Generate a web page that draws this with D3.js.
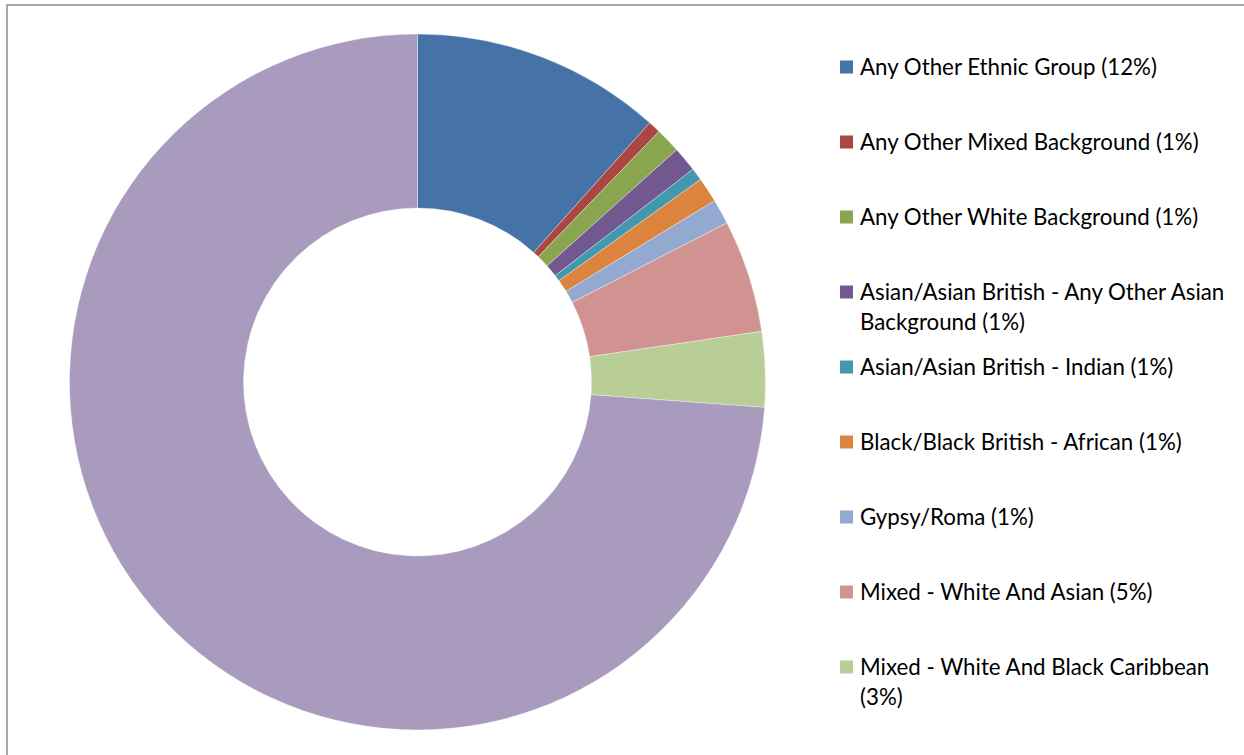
<!DOCTYPE html>
<meta charset="utf-8">
<head>
    <script src="https://d3js.org/d3.v7.min.js"></script>
    <style>
        body { margin: 0; background: #fff; }
        svg { display: block; }
        .legend text { font-family: "Lato", "Liberation Sans", sans-serif; font-size: 22.3px; fill: #000; }
    </style>
</head>
<body>
    <svg></svg>
    <script>
    // Data (counts)
    var categories = [
        "Any Other Ethnic Group",
        "Any Other Mixed Background",
        "Any Other White Background",
        "Asian/Asian British - Any Other Asian Background",
        "Asian/Asian British - Indian",
        "Black/Black British - African",
        "Gypsy/Roma",
        "Mixed - White And Asian",
        "Mixed - White And Black Caribbean",
        "White - British"
    ];
    var counts = [20, 1, 2, 2, 1, 2, 2, 9, 6, 127];
    var percentLabels = ["12%", "1%", "1%", "1%", "1%", "1%", "1%", "5%", "3%", "74%"];
    var colors = ["#4572A7", "#AA4643", "#89A54E", "#71588F", "#4198AF",
                  "#DB843D", "#93A9CF", "#D19392", "#B9CD96", "#A99BBD"];
    var legendShown = 9; // legend is cut off after the ninth entry

    var width = 1244, height = 755;
    var cx = 417.5, cy = 382;
    var outerR = 348, innerR = 174;

    var svg = d3.select("svg").attr("width", width).attr("height", height);

    // Outer frame
    svg.append("rect")
        .attr("x", 7).attr("y", 5)
        .attr("width", width).attr("height", height)
        .attr("fill", "none")
        .attr("stroke", "#8c8c8c")
        .attr("stroke-width", 1.5);

    var data = categories.map(function (c, i) {
        return { name: c, value: counts[i], pct: percentLabels[i], color: colors[i] };
    });

    var pie = d3.pie().sort(null).value(function (d) { return d.value; });
    var arc = d3.arc().innerRadius(innerR).outerRadius(outerR);

    var g = svg.append("g").attr("transform", "translate(" + cx + "," + cy + ")");
    g.selectAll("path")
        .data(pie(data))
        .enter().append("path")
        .attr("d", arc)
        .attr("fill", function (d) { return d.data.color; })
        .attr("stroke", "#fff")
        .attr("stroke-width", 0.5)
        .attr("stroke-opacity", 0.7);

    // Legend
    var legend = svg.append("g").attr("class", "legend");
    var step = 75, lineH = 30, maxW = 372;
    data.slice(0, legendShown).forEach(function (d, i) {
        var y = 67 + i * step;
        var item = legend.append("g");
        item.append("rect")
            .attr("x", 840).attr("y", y - 6.5)
            .attr("width", 13).attr("height", 13)
            .attr("fill", d.color);
        var text = item.append("text").attr("x", 860).attr("y", y);
        var words = (d.name + " (" + d.pct + ")").split(" ");
        var line = [], ln = 0;
        var tspan = text.append("tspan").attr("x", 860).attr("y", y).attr("dy", "0.35em");
        words.forEach(function (w) {
            line.push(w);
            tspan.text(line.join(" "));
            if (tspan.node().getComputedTextLength() > maxW && line.length > 1) {
                line.pop();
                tspan.text(line.join(" "));
                line = [w];
                ln++;
                tspan = text.append("tspan").attr("x", 860)
                    .attr("y", y + ln * lineH).attr("dy", "0.35em").text(w);
            }
        });
    });
    </script>
</body>
</html>
